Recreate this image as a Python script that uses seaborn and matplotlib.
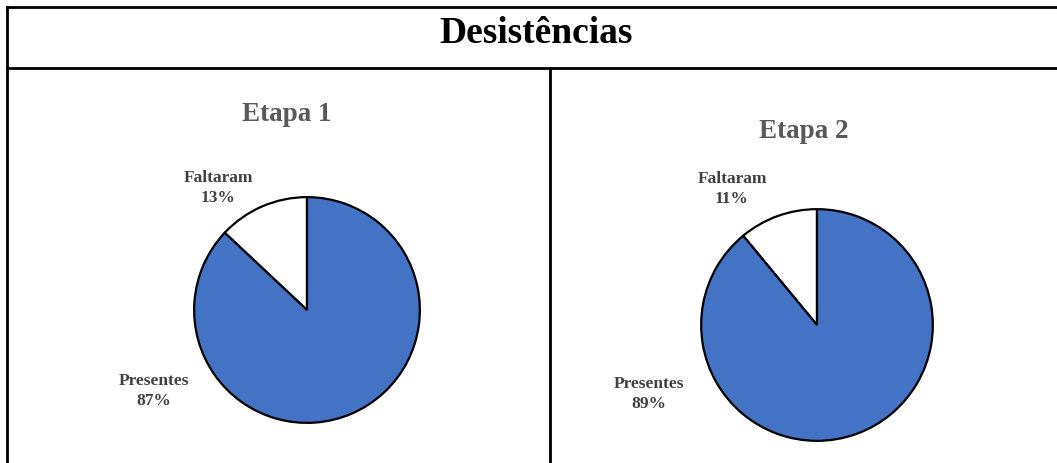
import matplotlib
matplotlib.use("Agg")
import matplotlib.pyplot as plt
import seaborn as sns
from matplotlib.lines import Line2D

# data
stages = ["Etapa 1", "Etapa 2"]
categories = ["Faltaram", "Presentes"]
faltaram_pct = [13, 11]
presentes_pct = [87, 89]
slice_colors = ["white", "#4472C4"]

sns.set_style("white")
plt.rcParams["font.family"] = ["Liberation Serif", "DejaVu Serif"]

W, H = 1057, 463
fig = plt.figure(figsize=(W / 100, H / 100), dpi=100)


def fx(x):
    return x / W


def fy(y):
    return 1 - y / H


# table frame
frame_kw = dict(color="black", linewidth=2.0, solid_capstyle="projecting")
fig.add_artist(Line2D([fx(7), fx(W + 5)], [fy(7), fy(7)], **frame_kw))
fig.add_artist(Line2D([fx(7), fx(W + 5)], [fy(68), fy(68)], **frame_kw))
fig.add_artist(Line2D([fx(7), fx(7)], [fy(7), fy(H + 5)], **frame_kw))
fig.add_artist(Line2D([fx(550), fx(550)], [fy(68), fy(H + 5)], **frame_kw))

fig.text(fx(536), fy(43), "Desistências", ha="center", va="baseline",
         fontsize=27, fontweight="bold", color="black")

# pie layout in pixels: center x, center y, radius
pie_boxes = [(307, 310, 114), (817, 325, 117)]
title_pos = [(287, 121), (804, 138)]
label_pos = [
    {"Faltaram": (218, 182), "Presentes": (154, 385)},
    {"Faltaram": (732, 183), "Presentes": (649, 388)},
]

for i, stage in enumerate(stages):
    cx, cy, r = pie_boxes[i]
    ax = fig.add_axes([fx(cx - r), fy(cy + r), 2 * r / W, 2 * r / H])
    values = [faltaram_pct[i], presentes_pct[i]]
    ax.pie(values, colors=slice_colors, startangle=90, counterclock=True,
           wedgeprops=dict(edgecolor="black", linewidth=1.6))
    ax.set_xlim(-1.01, 1.01)
    ax.set_ylim(-1.01, 1.01)
    ax.axis("off")

    tx, ty = title_pos[i]
    fig.text(fx(tx), fy(ty), stage, ha="center", va="baseline",
             fontsize=19.5, fontweight="bold", color="#595959")

    for cat, val in zip(categories, values):
        lx, ly = label_pos[i][cat]
        fig.text(fx(lx), fy(ly), cat, ha="center", va="baseline",
                 fontsize=12.5, fontweight="bold", color="#404040")
        fig.text(fx(lx), fy(ly + 20), f"{val}%", ha="center", va="baseline",
                 fontsize=12.5, fontweight="bold", color="#404040")

fig.savefig("out.png", dpi=100)
